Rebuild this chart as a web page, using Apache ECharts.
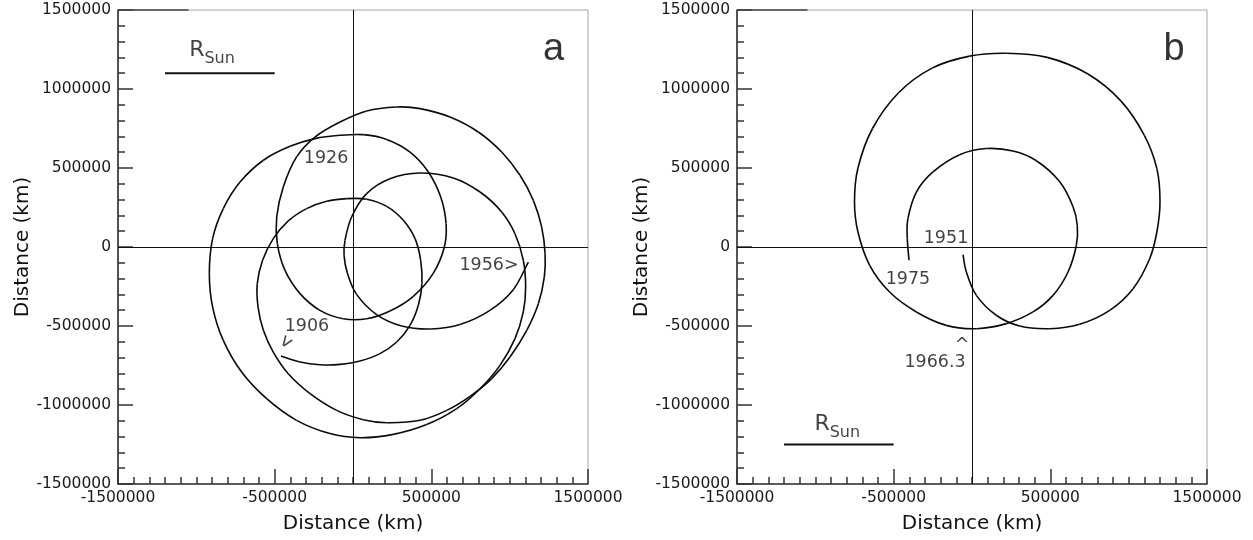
<!DOCTYPE html>
<html>
<head>
<meta charset="utf-8">
<script src="https://cdn.jsdelivr.net/npm/echarts@6/dist/echarts.min.js"></script>
<style>
html,body{margin:0;padding:0;background:#fff;}
#chart{width:1253px;height:540px;}
</style>
</head>
<body>
<div id="chart"></div>
<script>
// ---- data (km) ----
const axisMin = -1500000;
const axisMax = 1500000;
const yStep = 500000;    // y labels every 500 000 km
const xStep = 1000000;   // x labels -1500000, -500000, 500000, 1500000

// Panel a: solar barycentric path 1906 -> 1956
const pathA = [
[-460000,-690000],[-338000,-728000],[-211000,-745000],[-83000,-743000],[45000,-722000],
[172000,-675000],[279000,-601000],[364000,-496000],[417000,-369000],[440000,-232000],
[432000,-84000],[396000,53000],[321000,169000],[215000,257000],[87000,302000],
[-40000,306000],[-168000,289000],[-296000,243000],[-413000,165000],[-509000,53000],
[-577000,-84000],[-611000,-232000],[-606000,-380000],[-572000,-527000],[-509000,-665000],
[-413000,-802000],[-274000,-928000],[-104000,-1034000],[66000,-1093000],[215000,-1112000],
[428000,-1097000],[598000,-1034000],[747000,-945000],[885000,-833000],[1002000,-696000],
[1109000,-527000],[1183000,-359000],[1221000,-190000],[1226000,-42000],[1204000,127000],
[1151000,295000],[1066000,454000],[949000,601000],[800000,728000],[619000,823000],
[428000,876000],[279000,886000],[87000,861000],[-83000,791000],[-243000,696000],
[-360000,570000],[-445000,380000],[-487000,190000],[-483000,21000],[-434000,-148000],
[-338000,-295000],[-211000,-401000],[-62000,-454000],[87000,-454000],[236000,-405000],
[385000,-312000],[513000,-165000],[583000,0],[594000,148000],[560000,316000],
[481000,475000],[364000,601000],[215000,681000],[66000,711000],[-83000,707000],
[-243000,686000],[-402000,637000],[-572000,549000],[-721000,411000],[-828000,243000],
[-896000,53000],[-917000,-169000],[-896000,-380000],[-828000,-591000],[-711000,-791000],
[-551000,-960000],[-360000,-1097000],[-147000,-1181000],[45000,-1207000],[257000,-1186000],
[470000,-1124000],[662000,-1023000],[811000,-897000],[938000,-749000],[1034000,-580000],
[1087000,-411000],[1102000,-253000],[1087000,-84000],[1034000,84000],[949000,222000],
[811000,348000],[640000,437000],[428000,468000],[236000,432000],[87000,338000],
[-9000,190000],[-51000,42000],[-57000,-53000],[-36000,-165000],[23000,-300000],
[151000,-428000],[311000,-500000],[496000,-519000],[687000,-489000],[874000,-401000],
[1023000,-270000],[1119000,-95000]
];

// Panel b: solar barycentric path 1951 -> 1975
const pathB = [
[-57000,-49000],[-36000,-158000],[28000,-306000],[155000,-432000],[304000,-500000],
[496000,-517000],[687000,-489000],[879000,-401000],[1028000,-264000],[1134000,-74000],
[1180000,95000],[1200000,285000],[1180000,496000],[1100000,707000],[950000,925000],
[740000,1095000],[480000,1200000],[219000,1226000],[-15000,1208000],[-255000,1132000],
[-470000,975000],[-635000,750000],[-728000,500000],[-750000,285000],[-728000,95000],
[-653000,-116000],[-526000,-285000],[-355000,-411000],[-164000,-496000],[28000,-517000],
[219000,-485000],[389000,-411000],[517000,-306000],[613000,-158000],[666000,11000],
[672000,137000],[645000,255000],[560000,413000],[411000,546000],[262000,607000],
[91000,623000],[-79000,584000],[-249000,475000],[-355000,348000],[-409000,179000],
[-413000,53000],[-402000,-84000]
];

// Year annotations [x, y, text]
const labelsA = [
[-172000,563000,'1926'],
[-294000,-506000,'1906'],
[868000,-114000,'1956>']
];
const arrowA = [[-428000,-601000,'v']];
const labelsB = [
[-166000,51000,'1951'],
[-409000,-203000,'1975'],
[-236000,-728000,'1966.3']
];
const caretB = [[-64000,-620000,'^']];

// Solar radius scale bar [x0, x1, y] and its label position
const rsunBarA = [-1200000,-500000,1100000];
const rsunTextA = [-900000,1228000];
const rsunBarB = [-1200000,-500000,-1250000];
const rsunTextB = [-860000,-1140000];

// Panel letters
const letterA = [1280000,1247000,'a'];
const letterB = [1290000,1247000,'b'];

// dark stub on the top frame
const topStub = [-1500000,-1050000];

// ---- chart ----
const FONT = 'DejaVu Sans';
const grids = [
  {left:118, top:10, width:470, height:474, show:true, borderColor:'#a8a8a8', borderWidth:1, backgroundColor:'transparent'},
  {left:737, top:10, width:470, height:474, show:true, borderColor:'#a8a8a8', borderWidth:1, backgroundColor:'transparent'}
];

function axisCommon(gi, isX){
  return {
    type:'value', gridIndex:gi, min:axisMin, max:axisMax,
    interval: isX ? xStep : yStep,
    name:'Distance (km)', nameLocation:'middle',
    nameGap: isX ? 30 : 83,
    nameTextStyle:{fontFamily:FONT, fontSize:20, color:'#111'},
    axisLine:{show:true, onZero:false, lineStyle:{color:'#333', width:1.6}},
    axisTick:{show:true, inside:true, length:15, lineStyle:{color:'#333', width:1.5}},
    minorTick:{show:true, splitNumber: isX ? 10 : 5, length:7, lineStyle:{color:'#333', width:1.5}},
    splitLine:{show:false},
    axisLabel:{show:true, fontFamily:FONT, fontSize:15.5, color:'#1a1a1a', margin: isX ? 6 : 7,
      showMinLabel:true, showMaxLabel:true, formatter:v => String(v)}
  };
}

function textSeries(gi, rows, size, rot){
  return {
    type:'scatter', xAxisIndex:gi, yAxisIndex:gi, symbolSize:0, silent:true,
    data: rows.map(r => ({value:[r[0], r[1]], name:r[2]})),
    label:{show:true, position:'inside', formatter:p => p.name, fontFamily:FONT,
      fontSize:size, color:'#111', rotate:rot || 0},
    z:5
  };
}

function rsunSeries(gi, bar, txt){
  return [
    {type:'line', xAxisIndex:gi, yAxisIndex:gi, data:[[bar[0],bar[2]],[bar[1],bar[2]]],
     showSymbol:false, silent:true, lineStyle:{color:'#111', width:2}},
    {type:'scatter', xAxisIndex:gi, yAxisIndex:gi, symbolSize:0, silent:true,
     data:[[txt[0], txt[1]]],
     label:{show:true, position:'inside', formatter:'{r|R}{s|Sun}',
       rich:{
         r:{fontFamily:FONT, fontSize:22, color:'#111', verticalAlign:'bottom', padding:[0,0,6,0]},
         s:{fontFamily:FONT, fontSize:16, color:'#111', verticalAlign:'bottom'}
       }}}
  ];
}

// Smooth path through the data points (Catmull-Rom segments), positioned via api.coord
function pathSeries(gi, data){
  return {
    type:'custom', xAxisIndex:gi, yAxisIndex:gi, data:data, silent:true, clip:true,
    encode:{x:0, y:1},
    renderItem:function(params, api){
      const i = params.dataIndex;
      const n = data.length;
      if (i >= n - 1) return null;
      const p0 = api.coord(data[Math.max(i - 1, 0)]);
      const p1 = api.coord(data[i]);
      const p2 = api.coord(data[i + 1]);
      const p3 = api.coord(data[Math.min(i + 2, n - 1)]);
      return {
        type:'bezierCurve',
        shape:{
          x1:p1[0], y1:p1[1], x2:p2[0], y2:p2[1],
          cpx1:p1[0] + (p2[0] - p0[0]) / 6, cpy1:p1[1] + (p2[1] - p0[1]) / 6,
          cpx2:p2[0] - (p3[0] - p1[0]) / 6, cpy2:p2[1] - (p3[1] - p1[1]) / 6
        },
        style:{stroke:'#0a0a0a', lineWidth:1.6, fill:null}
      };
    },
    z:3
  };
}

function zeroLines(gi){
  return {
    type:'line', xAxisIndex:gi, yAxisIndex:gi, data:[], silent:true,
    markLine:{silent:true, symbol:'none', label:{show:false},
      lineStyle:{color:'#111', width:1, type:'solid'},
      data:[{xAxis:0},{yAxis:0}]}
  };
}

function stubSeries(gi){
  return {type:'line', xAxisIndex:gi, yAxisIndex:gi, clip:false,
    data:[[topStub[0], axisMax],[topStub[1], axisMax]],
    showSymbol:false, silent:true, lineStyle:{color:'#444', width:1.5}};
}

function letterSeries(gi, L){
  return {type:'scatter', xAxisIndex:gi, yAxisIndex:gi, symbolSize:0, silent:true,
    data:[{value:[L[0],L[1]], name:L[2]}],
    label:{show:true, position:'inside', formatter:p=>p.name, fontFamily:'Liberation Sans',
      fontSize:38, color:'#000'}};
}

const option = {
  animation:false,
  backgroundColor:'#fff',
  grid: grids,
  xAxis:[axisCommon(0,true), axisCommon(1,true)],
  yAxis:[axisCommon(0,false), axisCommon(1,false)],
  series:[
    zeroLines(0), zeroLines(1),
    pathSeries(0, pathA),
    pathSeries(1, pathB),
    textSeries(0, labelsA, 17.5),
    textSeries(0, arrowA, 18, -35),
    textSeries(1, labelsB, 17.5),
    textSeries(1, caretB, 18),
    ...rsunSeries(0, rsunBarA, rsunTextA),
    ...rsunSeries(1, rsunBarB, rsunTextB),
    stubSeries(0), stubSeries(1),
    letterSeries(0, letterA), letterSeries(1, letterB)
  ]
};

const chart = echarts.init(document.getElementById('chart'), null, {renderer:'canvas'});
chart.setOption(option);
</script>
</body>
</html>
